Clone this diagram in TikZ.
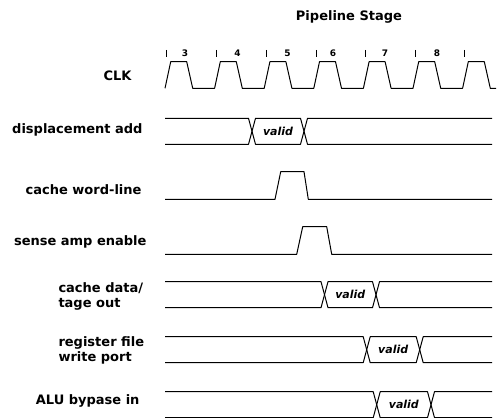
\documentclass[tikz,border=0pt]{standalone}
\usepackage{fontspec}
\setmainfont{DejaVu Sans}
\begin{document}
\begin{tikzpicture}[x=1pt, y=-1pt, line width=1pt, line join=round,
    lbl/.style={font=\fontsize{13}{15}\selectfont\bfseries, inner sep=0pt},
    stg/.style={font=\fontsize{9}{10}\selectfont\bfseries, inner sep=0pt},
    vld/.style={font=\fontsize{11}{12}\selectfont\bfseries\itshape, inner sep=0pt},
    stgtick/.style={line width=0.5pt}]
  \useasboundingbox (0,0) rectangle (497,417);
  \node[lbl] (title) at (349,17) {Pipeline Stage};
  % stage boundaries and numbers
  \foreach \x in {166.5,216.5,266.5,316,365,415,464}
    \draw[stgtick] (\x,50) -- (\x,57);
  \foreach \x/\n in {185/3,237.5/4,287.5/5,333/6,385/7,437/8}
    \node[stg] (stage\n) at (\x,53) {\n};
  % signal names
  \node[lbl, anchor=east] (clk) at (132,75.5) {CLK};
  \node[lbl, anchor=east] (disp) at (143,130) {displacement add};
  \node[lbl, anchor=east] (wordline) at (142,190) {cache word-line};
  \node[lbl, anchor=east] (senseamp) at (147,241.5) {sense amp enable};
  \node[lbl, anchor=west, align=left] (cachedata) at (58,296) {cache data/\\tage out};
  \node[lbl, anchor=west, align=left] (regfile) at (58,350) {register file\\write port};
  \node[lbl, anchor=east] (alubyp) at (140,401) {ALU bypase in};
  % clock, period 49.6
  \draw (165,88.3) foreach \i in {1,...,6} {
      -- ++(5.7,-26.6) -- ++(16,0) -- ++(6,26.6) -- ++(21.9,0) }
    -- ++(5.7,-26.6) -- ++(16,0) -- ++(6,26.6) -- (496,88.3);
  % single pulses
  \draw (165,199.3) -- (275,199.3) -- (280.7,171.7) -- (304,171.7)
    -- (308.3,199.3) -- (492,199.3);
  \draw (165,254.3) -- (296.7,254.3) -- (302.7,226.7) -- (326.7,226.7)
    -- (331.7,254.3) -- (492,254.3);
  % buses with a valid window
  \foreach \t/\a/\b/\nm in {118.3/252/304/disp, 281.7/324.5/376/cache,
      336.7/366.7/419.7/reg, 391.7/376.7/431/alu} {
    \draw (165,\t) -- ({\a-3.5},\t) -- ({\a+3.5},{\t+26}) -- ({\b-3.5},{\t+26})
      -- ({\b+3.5},\t) -- (492,\t);
    \draw (165,{\t+26}) -- ({\a-3.5},{\t+26}) -- ({\a+3.5},\t) -- ({\b-3.5},\t)
      -- ({\b+3.5},{\t+26}) -- (492,{\t+26});
    \node[vld] (valid\nm) at ({(\a+\b)/2},{\t+13}) {valid};
  }
\end{tikzpicture}
\end{document}
